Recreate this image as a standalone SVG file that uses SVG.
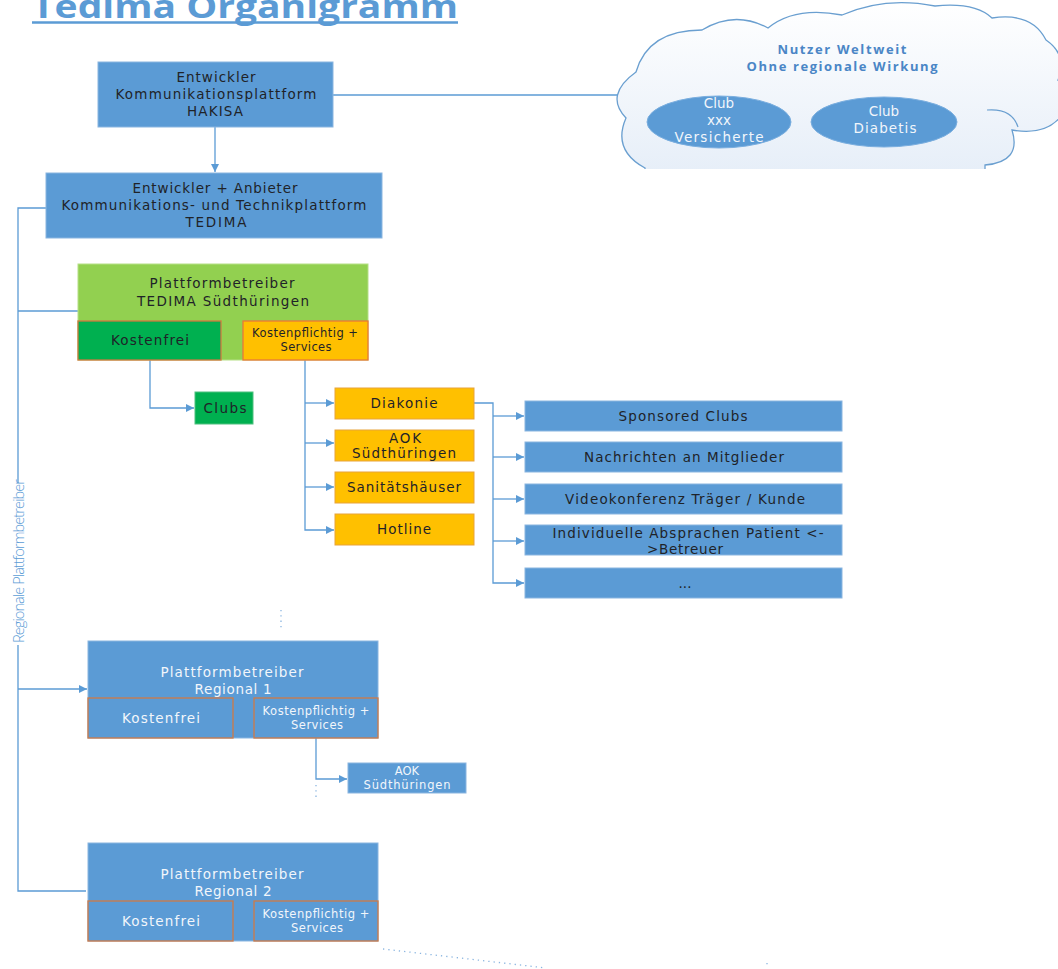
<svg xmlns="http://www.w3.org/2000/svg" width="1058" height="969" viewBox="0 0 1058 969">
<defs>
<style>
.t{font-family:"DejaVu Sans","Open Sans",sans-serif;font-size:13.5px;fill:#1f2328;text-anchor:middle}
.tw{font-family:"DejaVu Sans","Open Sans",sans-serif;font-size:13.5px;fill:#f2f6fb;text-anchor:middle}
.ts{font-size:11.5px}
.c{fill:none;stroke:#5b9bd5;stroke-width:1.3}
.blue{fill:#5b9bd5;stroke:#8ab5e0;stroke-width:1}
.bo{fill:#5b9bd5;stroke:#d07a45;stroke-width:1.3}
.or{fill:#ffc000;stroke:#e8a33a;stroke-width:1}
.gr{fill:#00b050;stroke:#4fc07f;stroke-width:1}
.dot{fill:none;stroke:#8ab5e0;stroke-width:1.3;stroke-dasharray:1.3 4}
</style>
<marker id="ah" viewBox="0 0 10 10" refX="10" refY="5" markerWidth="9" markerHeight="8" markerUnits="userSpaceOnUse" orient="auto">
<path d="M0,0 L10,5 L0,10 Z" fill="#5b9bd5"/>
</marker>
<linearGradient id="cg" x1="0" y1="0" x2="0" y2="1">
<stop offset="0" stop-color="#ffffff"/>
<stop offset="1" stop-color="#e6eef8"/>
</linearGradient>
<clipPath id="cc"><rect x="600" y="0" width="458" height="169"/></clipPath>
</defs>
<rect width="1058" height="969" fill="#ffffff"/>

<g id="title">
<text x="32" y="18" font-family="'Open Sans','Liberation Sans',sans-serif" font-weight="bold" font-size="33" fill="#5b9bd5" textLength="426" lengthAdjust="spacingAndGlyphs">Tedima Organigramm</text>
<line x1="32" y1="22.5" x2="458" y2="22.5" stroke="#5b9bd5" stroke-width="2.5"/>
</g>

<g id="connectors">
<path class="c" d="M333,95 H620"/>
<path class="c" d="M215,127 V172" marker-end="url(#ah)"/>
<path class="c" d="M46,208 H18 V483"/>
<path class="c" d="M18,645 V891 H86"/>
<path class="c" d="M18,311 H78"/>
<path class="c" d="M18,689 H87" marker-end="url(#ah)"/>
<path class="c" d="M212,316 V321 H222 V311" marker-end="url(#ah)"/>
<path class="c" d="M150,360 V408 H194" marker-end="url(#ah)"/>
<path class="c" d="M305,360 V530 H334" marker-end="url(#ah)"/>
<path class="c" d="M305,403 H334" marker-end="url(#ah)"/>
<path class="c" d="M305,443 H334" marker-end="url(#ah)"/>
<path class="c" d="M305,487 H334" marker-end="url(#ah)"/>
<path class="c" d="M474,403 H493 V583 H524" marker-end="url(#ah)"/>
<path class="c" d="M493,416 H524" marker-end="url(#ah)"/>
<path class="c" d="M493,457 H524" marker-end="url(#ah)"/>
<path class="c" d="M493,499 H524" marker-end="url(#ah)"/>
<path class="c" d="M493,541 H524" marker-end="url(#ah)"/>
<path class="c" d="M316,738 V779 H347" marker-end="url(#ah)"/>
<path class="dot" d="M281,610 V630"/>
<path class="dot" d="M316,785 V800"/>
<path class="dot" d="M383,949 L546,968"/>
<path class="dot" d="M767,963 V968"/>
<path class="dot" d="M970,122 H1022"/>
<text x="24" y="561" transform="rotate(-90 24 561)" font-family="'Open Sans','Liberation Sans',sans-serif" font-size="14.5" font-weight="300" fill="#5b9bd5" text-anchor="middle" textLength="164">Regionale Plattformbetreiber</text>
</g>

<g id="cloud">
<path clip-path="url(#cc)" fill="url(#cg)" stroke="#6a9fd0" stroke-width="1.3" d="M645,168 Q612,150 626,118 Q604,95 636,72 Q648,30 702,30 Q735,10 768,28 Q795,6 842,15 Q885,-4 935,6 Q975,2 992,18 Q1032,12 1046,40 Q1068,55 1058,80 L1062,80 L1062,115 Q1046,136 1012,130 Q1022,162 985,165 L985,175 L645,175 Z"/>
<path clip-path="url(#cc)" fill="none" stroke="#6a9fd0" stroke-width="1.2" d="M987,110 Q1012,108 1018,127"/>
<text x="842" y="54" font-family="'Open Sans','Liberation Sans',sans-serif" font-size="13" font-weight="bold" fill="#4a86c6" text-anchor="middle" textLength="129">Nutzer Weltweit</text>
<text x="842" y="71" font-family="'Open Sans','Liberation Sans',sans-serif" font-size="13" font-weight="bold" fill="#4a86c6" text-anchor="middle" textLength="191">Ohne regionale Wirkung</text>
</g>

<g id="club-xxx">
<ellipse cx="719" cy="122" rx="72" ry="26" fill="#5b9bd5" stroke="#7aaedf"/>
<text class="tw" x="719" y="108">Club</text>
<text class="tw" x="719" y="125">xxx</text>
<text class="tw" x="719" y="142" textLength="89">Versicherte</text>
</g>

<g id="club-diabetis">
<ellipse cx="884" cy="122" rx="73" ry="25" fill="#5b9bd5" stroke="#7aaedf"/>
<text class="tw" x="884" y="116">Club</text>
<text class="tw" x="885" y="133" textLength="63">Diabetis</text>
</g>

<g id="hakisa">
<rect class="blue" x="98" y="62" width="235" height="65"/>
<text class="t" x="216" y="82" textLength="79">Entwickler</text>
<text class="t" x="216" y="99" textLength="201">Kommunikationsplattform</text>
<text class="t" x="215" y="116" textLength="56">HAKISA</text>
</g>

<g id="tedima">
<rect class="blue" x="46" y="173" width="336" height="65"/>
<text class="t" x="215" y="193" textLength="165">Entwickler + Anbieter</text>
<text class="t" x="214" y="210" textLength="305">Kommunikations- und Technikplattform</text>
<text class="t" x="216" y="227" textLength="61">TEDIMA</text>
</g>

<g id="tedima-suedthueringen">
<rect x="78" y="264" width="290" height="96" fill="#92d050" stroke="#b5df86"/>
<text class="t" x="222" y="288" textLength="145">Plattformbetreiber</text>
<text class="t" x="223" y="306" textLength="172">TEDIMA  Südthüringen</text>
</g>
<g id="kostenfrei-1">
<rect x="78" y="321" width="143" height="39" fill="#00b050" stroke="#d0783f" stroke-width="1.3"/>
<text class="t" x="150" y="345" textLength="78">Kostenfrei</text>
</g>
<g id="kostenpflichtig-1">
<rect x="243" y="321" width="125" height="39" fill="#ffc000" stroke="#e8783a" stroke-width="1.3"/>
<text class="t ts" x="305" y="337" textLength="106">Kostenpflichtig +</text>
<text class="t ts" x="306" y="351" textLength="51">Services</text>
</g>

<g id="clubs">
<rect class="gr" x="195" y="392" width="58" height="32"/>
<text class="t" x="225" y="413" textLength="43">Clubs</text>
</g>

<g id="diakonie">
<rect class="or" x="335" y="388" width="139" height="31"/>
<text class="t" x="404" y="408" textLength="67">Diakonie</text>
</g>
<g id="aok">
<rect class="or" x="335" y="430" width="139" height="31"/>
<text class="t" x="405" y="443" textLength="32">AOK</text>
<text class="t" x="404" y="458" textLength="104">Südthüringen</text>
</g>
<g id="sanitaetshaeuser">
<rect class="or" x="335" y="472" width="139" height="31"/>
<text class="t" x="404" y="492" textLength="114">Sanitätshäuser</text>
</g>
<g id="hotline">
<rect class="or" x="335" y="514" width="139" height="31"/>
<text class="t" x="404" y="534" textLength="54">Hotline</text>
</g>

<g id="sponsored-clubs">
<rect class="blue" x="525" y="401" width="317" height="30"/>
<text class="t" x="683" y="421" textLength="129">Sponsored Clubs</text>
</g>
<g id="nachrichten">
<rect class="blue" x="525" y="442" width="317" height="30"/>
<text class="t" x="684" y="462" textLength="200">Nachrichten an Mitglieder</text>
</g>
<g id="videokonferenz">
<rect class="blue" x="525" y="484" width="317" height="30"/>
<text class="t" x="685" y="504" textLength="240">Videokonferenz Träger / Kunde</text>
</g>
<g id="absprachen">
<rect class="blue" x="525" y="525" width="317" height="30"/>
<text class="t" x="688" y="538" textLength="271">Individuelle Absprachen Patient &lt;-</text>
<text class="t" x="685" y="554" textLength="76">&gt;Betreuer</text>
</g>
<g id="more">
<rect class="blue" x="525" y="568" width="317" height="30"/>
<text class="t" x="685" y="588">...</text>
</g>

<g id="regional-1">
<rect class="blue" x="88" y="641" width="290" height="97"/>
<text class="tw" x="232" y="677" textLength="143">Plattformbetreiber</text>
<text class="tw" x="233" y="694" textLength="77">Regional 1</text>
</g>
<g id="kostenfrei-r1">
<rect class="bo" x="88" y="698" width="145" height="40"/>
<text class="tw" x="161" y="723" textLength="78">Kostenfrei</text>
</g>
<g id="kostenpflichtig-r1">
<rect class="bo" x="254" y="698" width="124" height="40"/>
<text class="tw ts" x="316" y="715" textLength="107">Kostenpflichtig +</text>
<text class="tw ts" x="317" y="729" textLength="52">Services</text>
</g>
<g id="aok-r1">
<rect class="blue" x="348" y="763" width="118" height="30"/>
<text class="tw ts" x="407" y="775">AOK</text>
<text class="tw ts" x="407" y="789" textLength="87">Südthüringen</text>
</g>

<g id="regional-2">
<rect class="blue" x="88" y="843" width="290" height="98"/>
<text class="tw" x="232" y="879" textLength="143">Plattformbetreiber</text>
<text class="tw" x="233" y="896" textLength="77">Regional 2</text>
</g>
<g id="kostenfrei-r2">
<rect class="bo" x="88" y="901" width="145" height="40"/>
<text class="tw" x="161" y="926" textLength="78">Kostenfrei</text>
</g>
<g id="kostenpflichtig-r2">
<rect class="bo" x="254" y="901" width="124" height="40"/>
<text class="tw ts" x="316" y="918" textLength="107">Kostenpflichtig +</text>
<text class="tw ts" x="317" y="932" textLength="52">Services</text>
</g>
</svg>
